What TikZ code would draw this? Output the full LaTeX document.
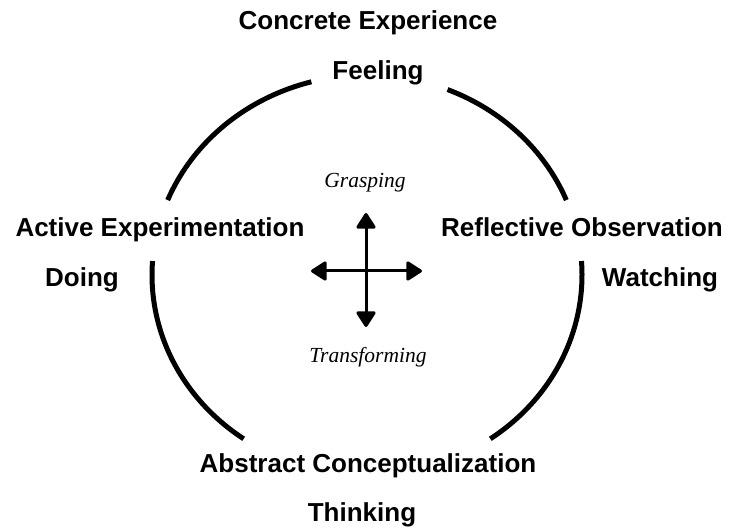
\documentclass[tikz,border=0pt]{standalone}
\usepackage{fontspec}
\setmainfont{Liberation Serif}
\setsansfont{Liberation Sans}
\usetikzlibrary{arrows.meta}
\begin{document}
\begin{tikzpicture}[x=1pt,y=1pt,
  stage/.style={font=\sffamily\bfseries\fontsize{26}{30}\selectfont,anchor=base,inner sep=0pt},
  mode/.style={font=\itshape\fontsize{21.5}{24}\selectfont,anchor=base,inner sep=0pt},
  ring/.style={line width=5pt},
  axis/.style={line width=3pt,{Triangle[width=21pt,length=17pt,round]}-{Triangle[width=21pt,length=17pt,round]}}]
\useasboundingbox (0,0) rectangle (734,530);
\coordinate (c) at (367,255);
\foreach \a/\b in {22/68,105/158,176/235,305/364}
  \draw[ring] ([shift={(\a:215pt and 200pt)}]c) arc[start angle=\a,end angle=\b,x radius=215pt,y radius=200pt];
\node[stage] (ce) at (368,500) {Concrete Experience};
\node[stage] (fe) at (378,450) {Feeling};
\node[stage] (ae) at (160,293) {Active Experimentation};
\node[stage] (do) at (82,243) {Doing};
\node[stage] (ro) at (582,293) {Reflective Observation};
\node[stage] (wa) at (660,243) {Watching};
\node[stage] (ac) at (368,57) {Abstract Conceptualization};
\node[stage] (th) at (362,8) {Thinking};
\node[mode] (gr) at (365,342) {Grasping};
\node[mode] (tr) at (368,167) {Transforming};
\coordinate (l) at (311,259);
\coordinate (r) at (422,259);
\coordinate (u) at (366,317);
\coordinate (d) at (366,203);
\draw[axis] (l)--(r);
\draw[axis] (u)--(d);
\end{tikzpicture}
\end{document}
